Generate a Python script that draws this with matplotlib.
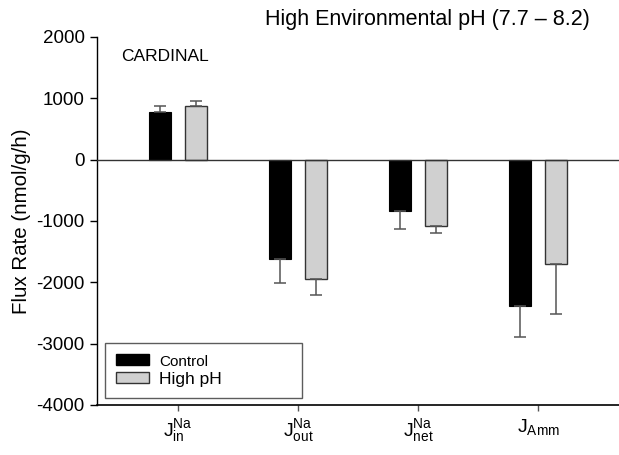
import numpy as np
import matplotlib.pyplot as plt
from matplotlib.patches import Patch

plt.rcParams['font.family'] = ['Liberation Sans', 'DejaVu Sans']
plt.rcParams['mathtext.fontset'] = 'custom'
plt.rcParams['mathtext.rm'] = 'Liberation Sans'
plt.rcParams['mathtext.it'] = 'Liberation Sans'

# 数据
categories = [r'$\mathrm{J}_{\mathrm{in}}^{\mathrm{Na}}$', r'$\mathrm{J}_{\mathrm{out}}^{\mathrm{Na}}$',
              r'$\mathrm{J}_{\mathrm{net}}^{\mathrm{Na}}$', r'$\mathrm{J}_{\mathrm{Amm}}$']
control = [783, -1620, -843, -2393]
control_err = [97, 387, 283, 507]
high_ph = [880, -1942, -1077, -1697]
high_ph_err = [82, 260, 113, 815]
yticks = [-4000, -3000, -2000, -1000, 0, 1000, 2000]


def one_sided(vals, errs):  # 误差线只画远离0的一侧
    lo = [e if v < 0 else 0 for v, e in zip(vals, errs)]
    hi = [e if v >= 0 else 0 for v, e in zip(vals, errs)]
    return [lo, hi]


fig = plt.figure(figsize=(6.19, 4.55), dpi=100)
ax = fig.add_axes([0.157, 0.110, 0.843, 0.809])

x = np.arange(1, len(categories) + 1)
w = 0.183
off = 0.15
ekw = dict(ecolor='#555555', elinewidth=1.1, capthick=1.1)
ax.bar(x - off, control, w, color='black', edgecolor='black', linewidth=0.8,
       yerr=one_sided(control, control_err), capsize=4.5, error_kw=ekw, label='Control', zorder=2)
ax.bar(x + off, high_ph, w, color='#d0d0d0', edgecolor='#333333', linewidth=1.0,
       yerr=one_sided(high_ph, high_ph_err), capsize=4.5, error_kw=ekw, label='High pH', zorder=2)

ax.axhline(0, color='#333333', linewidth=1.0, zorder=3)

ax.set_xlim(0.325, 4.675)
ax.set_ylim(-4000, 2000)
ax.set_yticks(yticks)
ax.set_yticklabels([str(t) for t in yticks], fontsize=13.5)
ax.set_xticks(x)
ax.set_xticklabels(categories, fontsize=14)
ax.tick_params(axis='y', direction='out', length=5, width=1, pad=4)
ax.tick_params(axis='x', direction='out', length=4, width=1, color='#555555', pad=5)
for s in ['top', 'right']:
    ax.spines[s].set_visible(False)
ax.spines['left'].set_linewidth(1.0)
ax.spines['bottom'].set_linewidth(1.2)

ax.set_ylabel('Flux Rate (nmol/g/h)', fontsize=14.8, labelpad=4)
fig.text(0.691, 0.958, 'High Environmental pH (7.7 \u2013 8.2)', fontsize=15.5, ha='center', va='center')
ax.text(0.046, 0.946, 'CARDINAL', transform=ax.transAxes, fontsize=12.5, ha='left', va='center')

handles = [Patch(facecolor='black', edgecolor='black'), Patch(facecolor='#d0d0d0', edgecolor='#333333')]
leg = ax.legend(handles, ['Control', 'High pH'], loc='lower left',
                bbox_to_anchor=(0.015, 0.019, 0.377, 0.15), mode='expand',
                frameon=True, fancybox=False, edgecolor='#333333', fontsize=12.5,
                handlelength=1.9, handleheight=0.6, borderpad=0.65, labelspacing=0.15,
                borderaxespad=0, handletextpad=0.55)
leg.get_frame().set_linewidth(1.0)
leg.get_texts()[0].set_fontsize(11)

fig.savefig('out.png', dpi=100)
